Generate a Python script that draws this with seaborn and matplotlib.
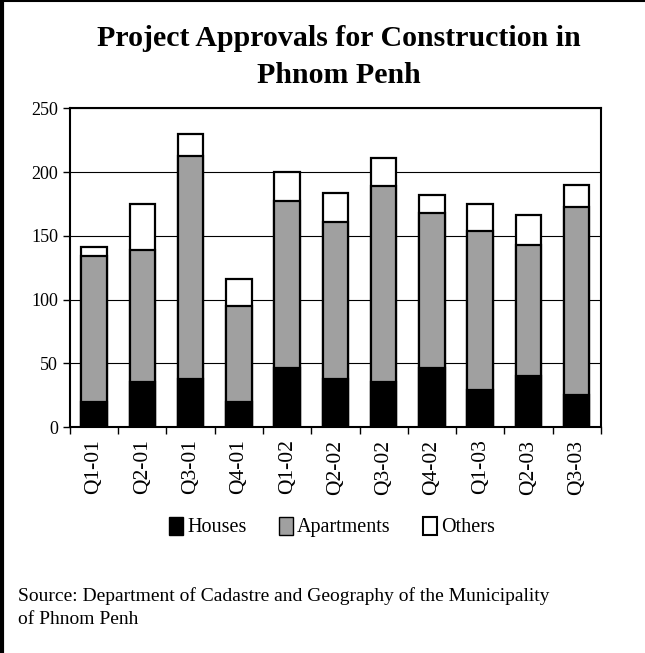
import numpy as np
import pandas as pd
import matplotlib
matplotlib.use("Agg")
import matplotlib.pyplot as plt
from matplotlib.patches import Patch
from matplotlib.lines import Line2D
import seaborn as sns

# Data
quarters = ["Q1-01", "Q2-01", "Q3-01", "Q4-01", "Q1-02", "Q2-02",
            "Q3-02", "Q4-02", "Q1-03", "Q2-03", "Q3-03"]
houses = [20, 35, 38, 20, 46, 38, 35, 46, 29, 40, 25]
apartments = [114, 104, 175, 75, 131, 123, 154, 122, 125, 103, 148]
others = [7, 36, 17, 21, 23, 23, 22, 14, 21, 23, 17]

df = pd.DataFrame({"Quarter": quarters, "Houses": houses,
                   "Apartments": apartments, "Others": others})
df["HA"] = df["Houses"] + df["Apartments"]
df["Total"] = df["HA"] + df["Others"]

sns.set_style("white")
plt.rcParams["font.family"] = ["Liberation Serif", "DejaVu Serif"]
plt.rcParams["text.color"] = "black"
plt.rcParams["xtick.color"] = "black"
plt.rcParams["ytick.color"] = "black"

fig = plt.figure(figsize=(6.45, 6.53), dpi=100)
ax = fig.add_axes([0.1085, 0.346, 0.823, 0.488])

# Stacked bars drawn as overlapping cumulative totals
bar_kw = dict(width=0.53, edgecolor="black", linewidth=1.6, ax=ax, zorder=3)
sns.barplot(data=df, x="Quarter", y="Total", color="white", saturation=1, **bar_kw)
sns.barplot(data=df, x="Quarter", y="HA", color="#a0a0a0", saturation=1, **bar_kw)
sns.barplot(data=df, x="Quarter", y="Houses", color="black", saturation=1, **bar_kw)

ax.set_ylim(0, 250)
ax.set_xlim(-0.5, len(quarters) - 0.5)
ax.set_yticks(np.arange(0, 251, 50))
ax.yaxis.grid(True, color="black", linewidth=0.8, zorder=0)
ax.set_axisbelow(True)
ax.set_xlabel("")
ax.set_ylabel("")

for s in ax.spines.values():
    s.set_visible(True)
    s.set_color("black")
    s.set_linewidth(1.5)

ax.set_xticks(range(len(quarters)))
ax.set_xticklabels(quarters, rotation=90, fontsize=15.5)
ax.set_xticks(np.arange(-0.5, len(quarters), 1), minor=True)
ax.tick_params(axis="x", which="major", length=0, pad=9)
ax.tick_params(axis="x", which="minor", length=5, width=1, direction="out",
               color="black", bottom=True)
ax.tick_params(axis="y", length=5, width=1, direction="out", color="black",
               labelsize=13, left=True)

# Title
fig.text(0.525, 0.913, "Project Approvals for Construction in\nPhnom Penh",
         ha="center", va="center", fontsize=21.5, fontweight="bold",
         linespacing=1.5)

# Legend
handles = [Patch(facecolor="black", edgecolor="black", label="Houses"),
           Patch(facecolor="#a0a0a0", edgecolor="black", label="Apartments"),
           Patch(facecolor="white", edgecolor="black", linewidth=1.5, label="Others")]
fig.legend(handles=handles, loc="center", bbox_to_anchor=(0.515, 0.193),
           ncol=3, frameon=False, fontsize=14.5, handlelength=0.7,
           handleheight=1.0, handletextpad=0.2, columnspacing=1.6)

# Source note
fig.text(0.028, 0.069,
         "Source: Department of Cadastre and Geography of the Municipality\nof Phnom Penh",
         ha="left", va="center", fontsize=14, linespacing=1.45)

# Frame lines at left and top of the figure
fig.add_artist(Line2D([0.003, 0.003], [0, 1], color="black", linewidth=3,
                      transform=fig.transFigure))
fig.add_artist(Line2D([0, 1], [0.998, 0.998], color="black", linewidth=1.5,
                      transform=fig.transFigure))

fig.savefig("out.png", dpi=100)
